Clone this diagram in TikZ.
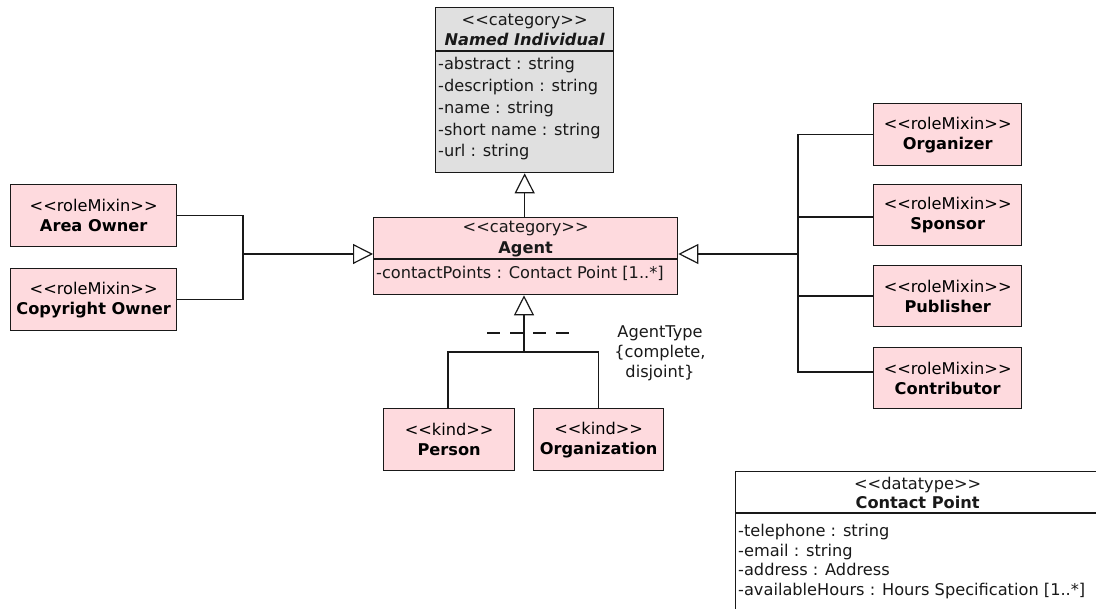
\documentclass[tikz,border=0pt]{standalone}
\usepackage{fontspec}
\setmainfont{DejaVu Sans}[Ligatures=TeXOff]
\usetikzlibrary{arrows.meta}
\definecolor{rolepink}{RGB}{254,218,222}
\definecolor{absgray}{RGB}{224,224,224}
\definecolor{ink}{RGB}{25,25,25}

\begin{document}
\begin{tikzpicture}[x=1pt,y=-1pt,
  font=\fontsize{16.2}{20}\selectfont,
  classbox/.style={draw=ink, line width=1.3pt, fill=rolepink, inner sep=0pt,
    align=center, anchor=north west},
  txt/.style={inner sep=0pt, text=ink},
  link/.style={draw=ink, line width=1.2pt},
  gen/.style={link, -{Triangle[open, length=20pt, width=20pt, fill=white]}},
  genset/.style={draw=ink, line width=2pt, dash pattern=on 13pt off 10pt}
]
\useasboundingbox (0,0) rectangle (1096,609);

% ---- Named Individual (abstract category) ----
\node[classbox, fill=absgray, minimum width=178pt, minimum height=165pt] (ni) at (435,7) {};
\node[txt, anchor=base] (ni-s) at (ni.north |- 0,26) {<<category>>};
\node[txt, anchor=base] (ni-n) at (ni.north |- 0,46) {\textbf{\textit{Named Individual}}};
\draw[link, line width=1.3pt] (ni.west |- 0,51) -- (ni.east |- 0,51);
\foreach \t [count=\i] in {-abstract : string, -description : string, -name : string,
    -short name : string, -url : string}
  \node[txt, anchor=base west] (ni-a\i) at (438,48.25+21.75*\i) {\t};

% ---- Agent ----
\node[classbox, minimum width=304pt, minimum height=77pt] (agent) at (373,217) {};
\node[txt, anchor=base] (agent-s) at (agent.north |- 0,233) {<<category>>};
\node[txt, anchor=base] (agent-n) at (agent.north |- 0,254) {\textbf{Agent}};
\draw[link, line width=1.3pt] (agent.west |- 0,259) -- (agent.east |- 0,259);
\node[txt, anchor=base west] (agent-a1) at (376,279) {-contactPoints : Contact Point [1..*]};

% ---- role mixins on the left ----
\node[classbox, minimum width=166pt, minimum height=62pt] (ao) at (10,184)
  {<<roleMixin>>\\\textbf{Area Owner}};
\node[classbox, minimum width=166pt, minimum height=62pt] (co) at (10,268)
  {<<roleMixin>>\\\textbf{Copyright Owner}};

% ---- role mixins on the right ----
\node[classbox, minimum width=148pt, minimum height=62pt] (org) at (873,103)
  {<<roleMixin>>\\\textbf{Organizer}};
\node[classbox, minimum width=148pt, minimum height=61pt] (spo) at (873,184)
  {<<roleMixin>>\\\textbf{Sponsor}};
\node[classbox, minimum width=148pt, minimum height=61pt] (pub) at (873,265)
  {<<roleMixin>>\\\textbf{Publisher}};
\node[classbox, minimum width=148pt, minimum height=61pt] (con) at (873,347)
  {<<roleMixin>>\\\textbf{Contributor}};

% ---- kinds ----
\node[classbox, minimum width=131pt, minimum height=62pt] (per) at (383,408)
  {<<kind>>\\\textbf{Person}};
\node[classbox, minimum width=130pt, minimum height=62pt] (orga) at (533,408)
  {<<kind>>\\\textbf{Organization}};

% ---- Contact Point datatype ----
\node[classbox, fill=white, minimum width=364pt, minimum height=150pt] (cp) at (735,471) {};
\node[txt, anchor=base] (cp-s) at (cp.north |- 0,490) {<<datatype>>};
\node[txt, anchor=base] (cp-n) at (cp.north |- 0,509) {\textbf{Contact Point}};
\draw[link, line width=1.3pt] (cp.west |- 0,513) -- (cp.east |- 0,513);
\foreach \t [count=\i] in {-telephone : string, -email : string, -address : Address,
    {-availableHours : Hours Specification [1..*]}}
  \node[txt, anchor=base west] (cp-a\i) at (738,517.5+19.5*\i) {\t};

% ---- generalizations ----
\draw[gen] (ni.south |- agent.north) -- (ni.south);

% left tree: one branch above, one below the junction
\coordinate (lj) at (243,254);
\draw[link] (ao.east) -| (lj);
\draw[link] (co.east) -| (lj);
\draw[gen] (lj) -- (agent.west |- lj);

% right tree: outer branches form the spine, inner ones are plain stubs
\coordinate (rj) at (798,254);
\draw[link] (org.west) -| (rj);
\draw[link] (con.west |- 0,372) -| (rj);
\draw[link] (spo.west |- 0,217) -- (rj |- 0,217);
\draw[link] (pub.west |- 0,296) -- (rj |- 0,296);
\draw[gen] (rj) -- (agent.east |- rj);

% subkinds of Agent
\coordinate (bj) at (524,352);
\draw[gen] (bj) -- (bj |- agent.south);
\draw[link] (per.north -| 448,0) |- (bj);
\draw[link] (orga.north) |- (bj);

% generalization set AgentType
\coordinate (gs1) at (487,333);
\coordinate (gs2) at (571,333);
\draw[genset] (gs1) -- (gs2);
\node[txt, align=center] (gsl) at (660,353)
  {AgentType\\\{complete,\\disjoint\}};
\end{tikzpicture}
\end{document}
